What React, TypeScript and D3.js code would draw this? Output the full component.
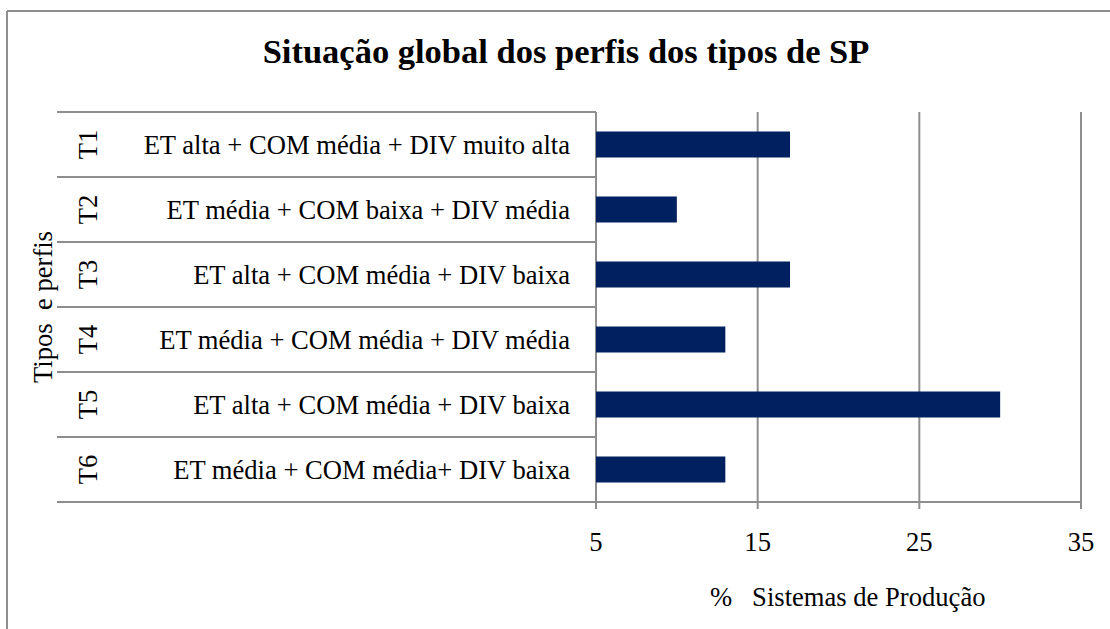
import React from "react";
import * as d3 from "d3";

const types = ["T1", "T2", "T3", "T4", "T5", "T6"];
const profiles = [
  "ET alta + COM média + DIV muito alta",
  "ET média + COM baixa + DIV média",
  "ET alta + COM média + DIV baixa",
  "ET média + COM média + DIV média",
  "ET alta + COM média + DIV baixa",
  "ET média + COM média+ DIV baixa",
];
const values = [17, 10, 17, 13, 30, 13];
const xTicks = [5, 15, 25, 35];
const title = "Situação global dos perfis dos tipos de SP";
const xTitle = "%   Sistemas de Produção";
const yTitle = "Tipos  e perfis";

const W = 1110;
const H = 629;
const FONT = '"Liberation Serif", "Times New Roman", Times, "DejaVu Serif", serif';
const GRID = "#8e8e8e";
const BAR = "#002060";

export default function App() {
  const x = d3.scaleLinear().domain([5, 35]).range([596, 1081]);
  const y = d3.scaleBand<string>().domain(types).range([112, 502]).paddingInner(0).paddingOuter(0);
  const bw = y.bandwidth();
  const barH = bw * 0.4;
  const top = 112;
  const bottom = 502;
  const boundaries = types.map((t) => y(t) as number).concat([bottom]);
  const txt: React.CSSProperties = { fontFamily: FONT, whiteSpace: "pre" };

  return (
    <svg
      width={W}
      height={H}
      style={{ position: "absolute", left: 0, top: 0, background: "#fff", fontFamily: FONT }}
    >
      <rect x={0} y={0} width={W} height={H} fill="#fff" />
      {/* outer frame */}
      <line x1={7} y1={11} x2={W} y2={11} stroke={GRID} strokeWidth={2} />
      <line x1={7} y1={11} x2={7} y2={H} stroke={GRID} strokeWidth={2} />

      {/* title */}
      <text x={566} y={63} textAnchor="middle" fontSize={34.5} fontWeight="bold" fill="#000" style={txt}>
        {title}
      </text>

      {/* gridlines + ticks */}
      {xTicks.map((t) => (
        <line key={"g" + t} x1={x(t)} x2={x(t)} y1={top} y2={bottom + 7} stroke={GRID} strokeWidth={2} />
      ))}
      {/* category separators */}
      {boundaries.map((b, i) => (
        <line key={"s" + i} x1={57} x2={i === boundaries.length - 1 ? x(35) : x(5)} y1={b} y2={b} stroke={GRID} strokeWidth={2} />
      ))}

      {/* bars */}
      {types.map((t, i) => (
        <rect
          key={"b" + t}
          x={x(5)}
          y={(y(t) as number) + (bw - barH) / 2}
          width={x(values[i]) - x(5)}
          height={barH}
          fill={BAR}
        />
      ))}

      {/* category labels */}
      {types.map((t, i) => {
        const cy = (y(t) as number) + bw / 2;
        return (
          <g key={"l" + t}>
            <text x={570} y={cy} dy="0.34em" textAnchor="end" fontSize={26.6} fill="#000" style={txt}>
              {profiles[i]}
            </text>
            <text
              transform={`translate(88,${cy}) rotate(-90)`}
              dy="0.34em"
              textAnchor="middle"
              fontSize={26.6}
              fill="#000"
              style={txt}
            >
              {t}
            </text>
          </g>
        );
      })}

      {/* y title */}
      <text transform={`translate(43,307) rotate(-90)`} dy="0.34em" textAnchor="middle" fontSize={26.6} fill="#000" style={txt}>
        {yTitle}
      </text>

      {/* tick labels */}
      {xTicks.map((t) => (
        <text key={"t" + t} x={x(t)} y={542} dy="0.34em" textAnchor="middle" fontSize={26.6} fill="#000" style={txt}>
          {t}
        </text>
      ))}

      {/* x title */}
      <text x={710} y={597} dy="0.34em" textAnchor="start" fontSize={26.6} fill="#000" style={txt}>
        {xTitle}
      </text>
    </svg>
  );
}
